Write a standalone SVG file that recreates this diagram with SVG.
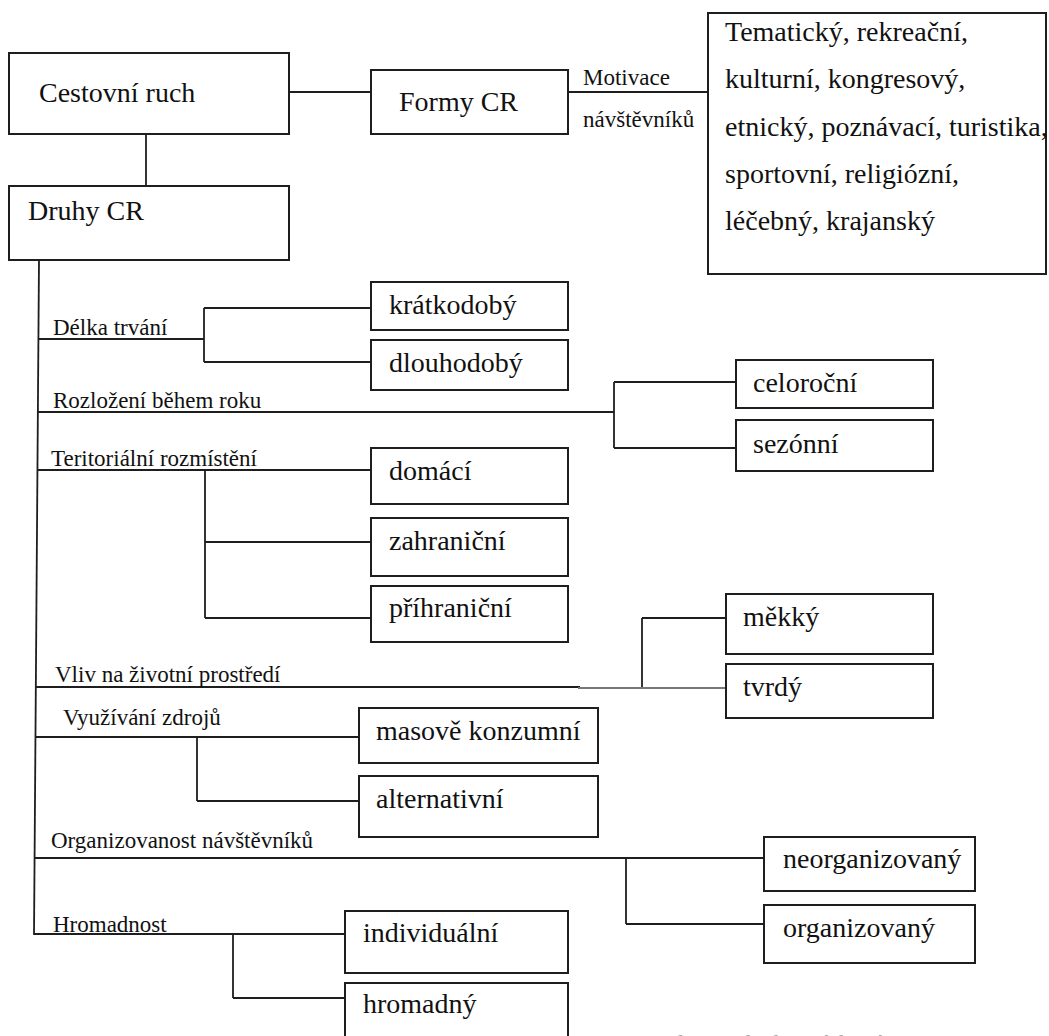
<svg xmlns="http://www.w3.org/2000/svg" width="1049" height="1036" viewBox="0 0 1049 1036" font-family="Liberation Serif, Times New Roman, serif">
<style>
  .box{fill:#fff;stroke:#1e1e1e;stroke-width:2}
  text{font-family:"Liberation Serif",serif}
  .t{font-size:28px;fill:#111}
  .lb{font-size:23px;fill:#111}
  .src{font-size:23px;fill:#a8a8a8}
  #connectors line{stroke:#1e1e1e;stroke-width:1.8;fill:none}
  #connectors line.gray{stroke:#777}
</style>
<rect width="1049" height="1036" fill="#fff"/>
<g id="connectors">
  <line x1="289" y1="92" x2="371" y2="92"/>
  <line x1="568" y1="92" x2="708" y2="92"/>
  <line x1="146" y1="134" x2="146" y2="186"/>
  <line x1="39" y1="260" x2="34" y2="935"/>
  <line x1="38" y1="339" x2="204" y2="339"/>
  <line x1="204" y1="308" x2="204" y2="362"/>
  <line x1="204" y1="308" x2="371" y2="308"/>
  <line x1="204" y1="362" x2="371" y2="362"/>
  <line x1="38" y1="412" x2="614" y2="412"/>
  <line x1="614" y1="382" x2="614" y2="448"/>
  <line x1="614" y1="382" x2="736" y2="382"/>
  <line x1="614" y1="448" x2="736" y2="448"/>
  <line x1="37" y1="470" x2="371" y2="470"/>
  <line x1="205" y1="470" x2="205" y2="618"/>
  <line x1="205" y1="542" x2="371" y2="542"/>
  <line x1="205" y1="618" x2="371" y2="618"/>
  <line x1="35" y1="687" x2="580" y2="687"/>
  <line class="gray" x1="578" y1="688" x2="726" y2="688"/>
  <line x1="642" y1="618" x2="642" y2="687"/>
  <line x1="642" y1="618" x2="726" y2="618"/>
  <line x1="35" y1="737" x2="359" y2="737"/>
  <line x1="197" y1="737" x2="197" y2="801"/>
  <line x1="197" y1="801" x2="359" y2="801"/>
  <line x1="34" y1="858" x2="764" y2="858"/>
  <line x1="626" y1="858" x2="626" y2="924"/>
  <line x1="626" y1="924" x2="764" y2="924"/>
  <line x1="34" y1="934" x2="345" y2="934"/>
  <line x1="233" y1="934" x2="233" y2="998"/>
  <line x1="233" y1="998" x2="345" y2="998"/>
</g>
<g id="labels">
  <text class="lb" x="583" y="85">Motivace</text>
  <text class="lb" x="583" y="127">návštěvníků</text>
  <text class="lb" x="53" y="335">Délka trvání</text>
  <text class="lb" x="53" y="408">Rozložení během roku</text>
  <text class="lb" x="51" y="466">Teritoriální rozmístění</text>
  <text class="lb" x="55" y="682">Vliv na životní prostředí</text>
  <text class="lb" x="63" y="725">Využívání zdrojů</text>
  <text class="lb" x="51" y="848">Organizovanost návštěvníků</text>
  <text class="lb" x="53" y="932">Hromadnost</text>
</g>
<g id="cestovni-ruch"><rect class="box" x="9" y="53" width="280" height="81"/><text class="t" x="39" y="102">Cestovní ruch</text></g>
<g id="formy-cr"><rect class="box" x="371" y="70" width="197" height="64"/><text class="t" x="399" y="111">Formy CR</text></g>
<g id="formy-list"><rect class="box" x="708" y="13" width="338" height="261"/>
  <text class="t" x="725" y="41">Tematický, rekreační,</text>
  <text class="t" x="725" y="88">kulturní, kongresový,</text>
  <text class="t" x="725" y="136">etnický, poznávací, turistika,</text>
  <text class="t" x="725" y="183">sportovní, religiózní,</text>
  <text class="t" x="725" y="230">léčebný, krajanský</text>
</g>
<g id="druhy-cr"><rect class="box" x="9" y="186" width="280" height="74"/><text class="t" x="28" y="220">Druhy CR</text></g>
<g id="kratkodoby"><rect class="box" x="371" y="282" width="197" height="48"/><text class="t" x="389" y="314">krátkodobý</text></g>
<g id="dlouhodoby"><rect class="box" x="371" y="340" width="197" height="50"/><text class="t" x="389" y="372">dlouhodobý</text></g>
<g id="celorocni"><rect class="box" x="736" y="360" width="197" height="48"/><text class="t" x="753" y="392">celoroční</text></g>
<g id="sezonni"><rect class="box" x="736" y="420" width="197" height="51"/><text class="t" x="753" y="453">sezónní</text></g>
<g id="domaci"><rect class="box" x="371" y="448" width="197" height="56"/><text class="t" x="389" y="480">domácí</text></g>
<g id="zahranicni"><rect class="box" x="371" y="518" width="197" height="58"/><text class="t" x="389" y="550">zahraniční</text></g>
<g id="prihranicni"><rect class="box" x="371" y="586" width="197" height="56"/><text class="t" x="389" y="617">příhraniční</text></g>
<g id="mekky"><rect class="box" x="726" y="594" width="207" height="60"/><text class="t" x="743" y="626">měkký</text></g>
<g id="tvrdy"><rect class="box" x="726" y="664" width="207" height="54"/><text class="t" x="743" y="696">tvrdý</text></g>
<g id="masove-konzumni"><rect class="box" x="359" y="708" width="239" height="55"/><text class="t" x="376" y="740">masově konzumní</text></g>
<g id="alternativni"><rect class="box" x="359" y="776" width="239" height="61"/><text class="t" x="376" y="808">alternativní</text></g>
<g id="neorganizovany"><rect class="box" x="764" y="837" width="211" height="54"/><text class="t" x="783" y="868">neorganizovaný</text></g>
<g id="organizovany"><rect class="box" x="764" y="905" width="211" height="58"/><text class="t" x="783" y="937">organizovaný</text></g>
<g id="individualni"><rect class="box" x="345" y="911" width="223" height="62"/><text class="t" x="363" y="942">individuální</text></g>
<g id="hromadny"><rect class="box" x="345" y="983" width="223" height="70"/><text class="t" x="363" y="1013">hromadný</text></g>
<text class="src" x="658" y="1051">Zdroj: Zelenka, Pásková, 2012</text>
</svg>
